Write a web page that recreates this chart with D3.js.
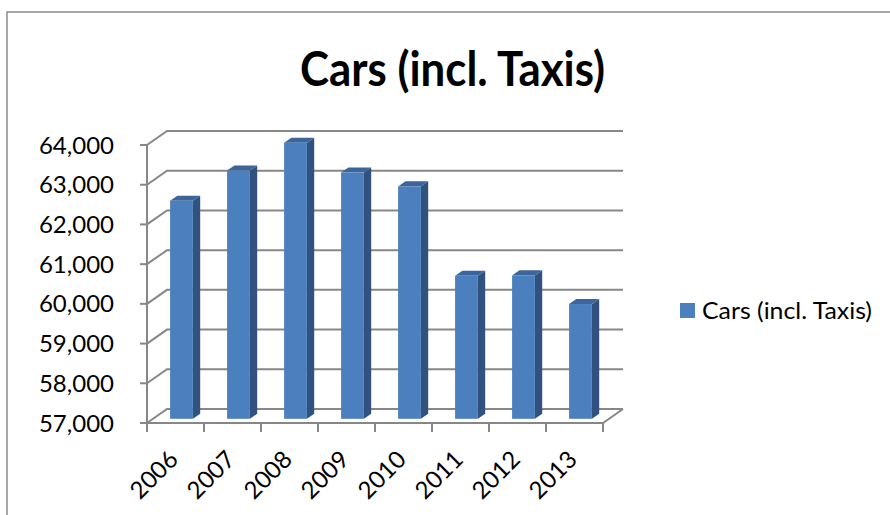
<!DOCTYPE html>
<html>
<head>
<meta charset="utf-8">
<script src="https://cdn.jsdelivr.net/npm/d3@7"></script>
<style>
  body { margin: 0; background: #fff; }
  svg { display: block; font-family: Lato, "Open Sans", sans-serif; }
</style>
</head>
<body>
<div id="chart"></div>
<script>
// Chart data
const years = ['2006', '2007', '2008', '2009', '2010', '2011', '2012', '2013'];
const cars = [62490, 63250, 63950, 63200, 62850, 60600, 60610, 59890];
const yTicks = [57000, 58000, 59000, 60000, 61000, 62000, 63000, 64000];
const seriesName = 'Cars (incl. Taxis)';

const W = 890, H = 515;
const svg = d3.select('#chart').append('svg')
    .attr('width', W).attr('height', H);

// chart frame (only top and left edges are visible)
svg.append('path')
    .attr('d', `M7,${H} L7,12 L${W},12`)
    .attr('fill', 'none').attr('stroke', '#8c8c8c').attr('stroke-width', 1.5);

// title
svg.append('text')
    .attr('x', 300).attr('y', 86)
    .attr('font-size', 48).attr('font-weight', 700).attr('fill', '#000')
    .attr('textLength', 305).attr('lengthAdjust', 'spacingAndGlyphs')
    .text('Cars (incl. Taxis)');

// plot geometry: front plane + depth offset
const x0 = 147, x1 = 603;
const depthX = 20, depthY = -14;
const x = d3.scaleBand().domain(years).range([x0, x1]).paddingInner(0.6).paddingOuter(0.3);
const xEdge = d3.scaleLinear().domain([0, years.length]).range([x0, x1]);
const y = d3.scaleLinear().domain([57000, 64000]).range([423, 145]);
const P = (px, py, d) => [px + depthX * d, py + depthY * d];

const grid = svg.append('g')
    .attr('fill', 'none').attr('stroke', '#878787').attr('stroke-width', 2);

// back wall gridlines + side wall diagonals
yTicks.forEach(v => {
    const a = P(x0, y(v), 0), b = P(x0, y(v), 1), c = P(x1, y(v), 1);
    grid.append('path').attr('d', `M${a} L${b} L${c}`);
});

// floor front + right edge
grid.append('path')
    .attr('d', `M${P(x0, y(57000), 0)} L${P(x1, y(57000), 0)} L${P(x1, y(57000), 1)}`);

// left axis + ticks
grid.append('line')
    .attr('x1', x0).attr('x2', x0).attr('y1', y(64000)).attr('y2', y(57000));
yTicks.forEach(v => {
    grid.append('line').attr('x1', x0 - 7).attr('x2', x0).attr('y1', y(v)).attr('y2', y(v));
});
// category ticks
d3.range(years.length + 1).forEach(i => {
    grid.append('line')
        .attr('x1', xEdge(i)).attr('x2', xEdge(i))
        .attr('y1', y(57000)).attr('y2', y(57000) + 9);
});

// y labels
svg.append('g').selectAll('text').data(yTicks).join('text')
    .attr('x', 114).attr('y', d => y(d) + 8.5)
    .attr('text-anchor', 'end').attr('font-size', 24).attr('fill', '#000')
    .text(d3.format(','));

// x labels rotated
svg.append('g').selectAll('text').data(years).join('text')
    .attr('transform', d => `translate(${x(d) + x.bandwidth() / 2 + 4},${y(57000) + 38}) rotate(-45)`)
    .attr('text-anchor', 'end').attr('font-size', 24).attr('fill', '#000')
    .text(d => d);

// 3D bars
const dFront = 0.3, dBack = 0.665;
const bars = svg.append('g');
years.forEach((yr, i) => {
    const l = x(yr), r = x(yr) + x.bandwidth();
    const top = y(cars[i]), bot = y(57000);
    const g = bars.append('g');
    const poly = pts => 'M' + pts.map(p => p.join(',')).join('L') + 'Z';
    // side face
    g.append('path')
        .attr('d', poly([P(r, top, dFront), P(r, top, dBack), P(r, bot, dBack), P(r, bot, dFront)]))
        .attr('fill', '#31527e');
    // top face
    g.append('path')
        .attr('d', poly([P(l, top, dFront), P(l, top, dBack), P(r, top, dBack), P(r, top, dFront)]))
        .attr('fill', '#3b659b');
    // front face
    const f = P(l, top, dFront);
    g.append('rect')
        .attr('x', f[0]).attr('y', f[1])
        .attr('width', r - l).attr('height', bot - top)
        .attr('fill', '#4b7fbe');
});

// legend
svg.append('rect')
    .attr('x', 680).attr('y', 303).attr('width', 15).attr('height', 15)
    .attr('fill', '#4b7fbe');
svg.append('text')
    .attr('x', 702).attr('y', 319)
    .attr('font-size', 23).attr('fill', '#000')
    .attr('textLength', 170).attr('lengthAdjust', 'spacingAndGlyphs')
    .text(seriesName);
</script>
</body>
</html>
